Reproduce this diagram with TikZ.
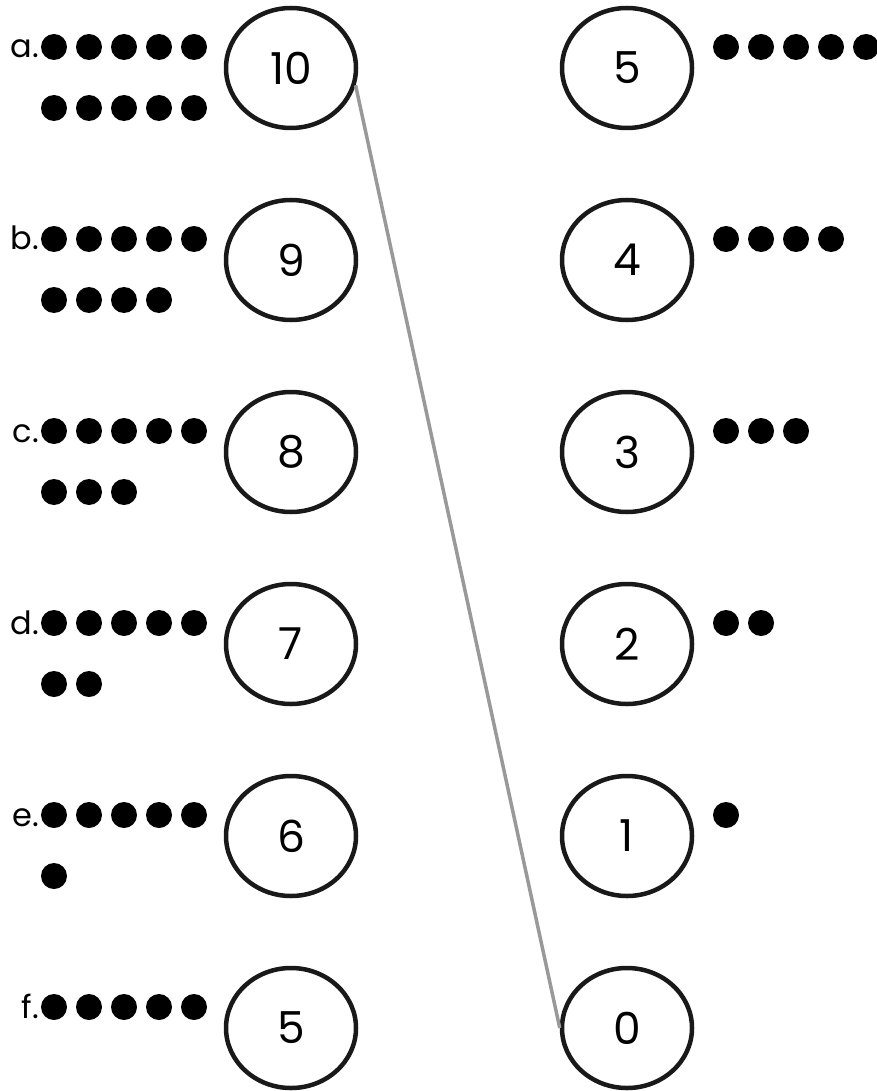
\documentclass[tikz,border=0pt]{standalone}
\usepackage{fontspec}
\setmainfont{Poppins}
\usetikzlibrary{shapes.geometric}
\begin{document}
\begin{tikzpicture}[x=1pt,y=-1pt,
  ring/.style={draw=black!90,ellipse,line width=4.5pt,minimum width=130pt,minimum height=120pt,inner sep=0pt,font=\fontsize{44}{44}\selectfont},
  dot/.style={circle,fill=black,inner sep=0pt,minimum size=26pt}]
  \useasboundingbox (0,0) rectangle (876,1091);
  \foreach \i/\lab/\n/\m in {0/a/10/5,1/b/9/4,2/c/8/3,3/d/7/2,4/e/6/1,5/f/5/0}{
    \pgfmathsetmacro{\y}{68+192*\i}
    \node[ring] (L\i) at (291,\y) {\n};
    \node[ring] (R\i) at (627,\y) {\m};
    \node[anchor=base east,inner sep=0pt,font=\fontsize{32}{32}\selectfont] (lab\i) at (39,\y-10) {\lab.};
    \foreach \j in {1,...,\n}{
      \pgfmathsetmacro{\dx}{54+35*mod(\j-1,5)}
      \pgfmathsetmacro{\dy}{\y-21+61*floor((\j-1)/5)}
      \node[dot] (l\i-\j) at (\dx,\dy) {};
    }
    \ifnum\m>0
      \foreach \j in {1,...,\m}{
        \node[dot] (r\i-\j) at (691+35*\j,\y-21) {};
      }
    \fi
  }
  \draw[black!40,line width=3.5pt] (L0.-15) -- (R5.west);
\end{tikzpicture}
\end{document}
